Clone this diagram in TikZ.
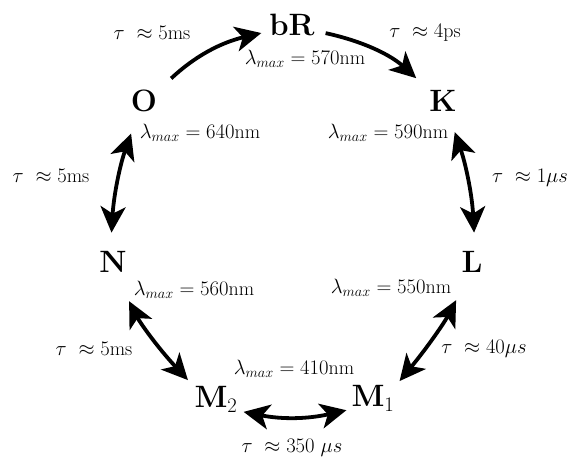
\documentclass[tikz,border=0pt]{standalone}
\usepackage{amsmath}
\usepackage{tikz}
\usetikzlibrary{arrows.meta, positioning}
\tikzset{
	state/.style ={font=\fontsize{31}{36}\selectfont\bfseries, inner sep=3bp, anchor=base},
	lam/.style   ={font=\fontsize{20}{24}\selectfont, inner sep=1bp},
	tlab/.style  ={font=\fontsize{20}{24}\selectfont, inner sep=1bp},
	% transition arrows
	fwd/.style   ={-{Stealth[length=26bp, width=25bp, inset=7bp]}, line width=3.8bp},
	both/.style  ={{Stealth[length=26bp, width=25bp, inset=7bp]}-{Stealth[length=26bp, width=25bp, inset=7bp]}, line width=3.8bp},
}

\begin{document}
\begin{tikzpicture}[x=1bp, y=1bp]
	\useasboundingbox[fill=white] (0,0) rectangle (567,459);
	% photocycle states
	\node[state] (bR) at (292,423) {bR};
	\node[state] (O)  at (144,347) {O};
	\node[state] (K)  at (443,347) {K};
	\node[state] (N)  at (113,186) {N};
	\node[state] (L)  at (472,186) {L};
	\node[state] (M2) at (216,51)  {M$_2$};
	\node[state] (M1) at (373,52)  {M$_1$};
	% absorption maxima
	\foreach \n/\x/\y/\v in {bR/305/400/570, O/200/326/640, K/388/326/590, N/194/169/560, L/391/171/550, M/294/90/410}
		\node[lam] (lam\n) at (\x,\y) {$\lambda_{max} = \v$nm};
	% lifetimes
	\foreach \n/\x/\y/\t in {ObR/152/426/{$\tau\ \approx 5$ms}, bRK/425/426/{$\tau\ \approx 4$ps}, NO/51/283/{$\tau\ \approx 5$ms},
		KL/530/281/{$\tau\ \approx 1\mu s$}, NM/94/110/{$\tau\ \approx 5$ms}, LM/484/110/{$\tau\ \approx 40\mu s$}, MM/292/11/{$\tau\ \approx 350\ \mu s$}}
		\node[tlab] (tau\n) at (\x,\y) {\t};
	% transitions
	\draw[fwd, shorten <=15bp, shorten >=5bp] (O.38) to[bend left=15] (bR.194);
	\draw[fwd, shorten <=8bp, shorten >=14bp] (bR.-13) to[bend left=15] (K.140);
	\draw[both, shorten <=16bp, shorten >=19bp] (N.100) to[bend left=8] (O.245);
	\draw[both, shorten <=18bp, shorten >=16bp] (K.-67) to[bend left=8] (L.78);
	\draw[both, shorten <=28bp, shorten >=5bp] (N.-76) to[bend right=8] (M2.147);
	\draw[both, shorten <=27bp, shorten >=3bp] (L.256) to[bend left=6] (M1.32);
	\draw[both, shorten <=3bp, shorten >=2bp] (M2.-25) to[bend right=12] (M1.204);
\end{tikzpicture}
\end{document}
